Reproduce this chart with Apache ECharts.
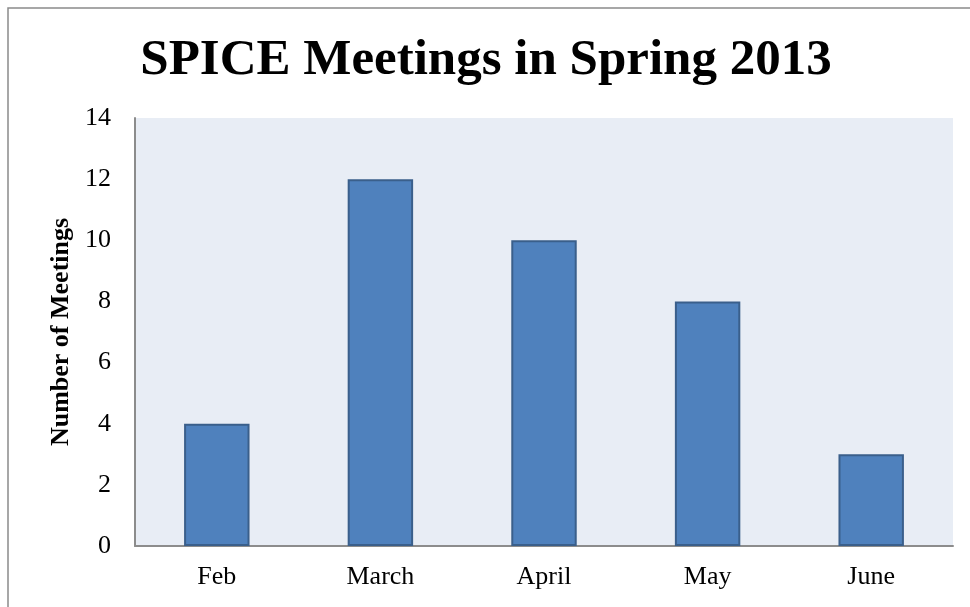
<!DOCTYPE html>
<html>
<head>
<meta charset="utf-8">
<script src="https://cdn.jsdelivr.net/npm/echarts@6/dist/echarts.min.js"></script>
<style>
html,body{margin:0;padding:0;background:#fff;}
#chart{width:970px;height:607px;}
</style>
</head>
<body>
<div id="chart"></div>
<script>
const titleText = 'SPICE Meetings in Spring 2013';
const categories = ['Feb', 'March', 'April', 'May', 'June'];
const meetings = [4, 12, 10, 8, 3];
const yAxisName = 'Number of Meetings';

const chart = echarts.init(document.getElementById('chart'));
const serif = '"Liberation Serif", "DejaVu Serif", serif';
chart.setOption({
  animation: false,
  backgroundColor: '#ffffff',
  graphic: [{
    type: 'rect',
    shape: { x: 8, y: 8, width: 1200, height: 1200 },
    style: { fill: 'none', stroke: '#8a8a8a', lineWidth: 1.5 },
    silent: true
  }],
  title: {
    text: titleText,
    left: 481,
    top: 30,
    textAlign: 'center',
    textStyle: { fontFamily: serif, fontWeight: 'bold', fontSize: 51, color: '#000' }
  },
  grid: {
    left: 135, right: 17, top: 118, bottom: 61,
    show: true, backgroundColor: '#e8edf5', borderWidth: 0
  },
  xAxis: {
    type: 'category',
    data: categories,
    axisLine: { show: true, lineStyle: { color: '#8c8c8c', width: 2 } },
    axisTick: { show: false },
    axisLabel: { fontFamily: serif, fontSize: 26, color: '#000', margin: 18 },
    splitLine: { show: false }
  },
  yAxis: {
    type: 'value',
    min: 0, max: 14, interval: 2,
    name: yAxisName,
    nameLocation: 'middle',
    nameGap: 60,
    nameTextStyle: { fontFamily: serif, fontWeight: 'bold', fontSize: 26, color: '#000' },
    axisLine: { show: true, lineStyle: { color: '#8c8c8c', width: 2 } },
    axisTick: { show: false },
    axisLabel: { fontFamily: serif, fontSize: 26, color: '#000', margin: 24 },
    splitLine: { show: false }
  },
  series: [{
    type: 'bar',
    data: meetings,
    barWidth: '40%',
    itemStyle: { color: '#4f81bd', borderColor: '#3a5f8b', borderWidth: 2 }
  }]
});
</script>
</body>
</html>
